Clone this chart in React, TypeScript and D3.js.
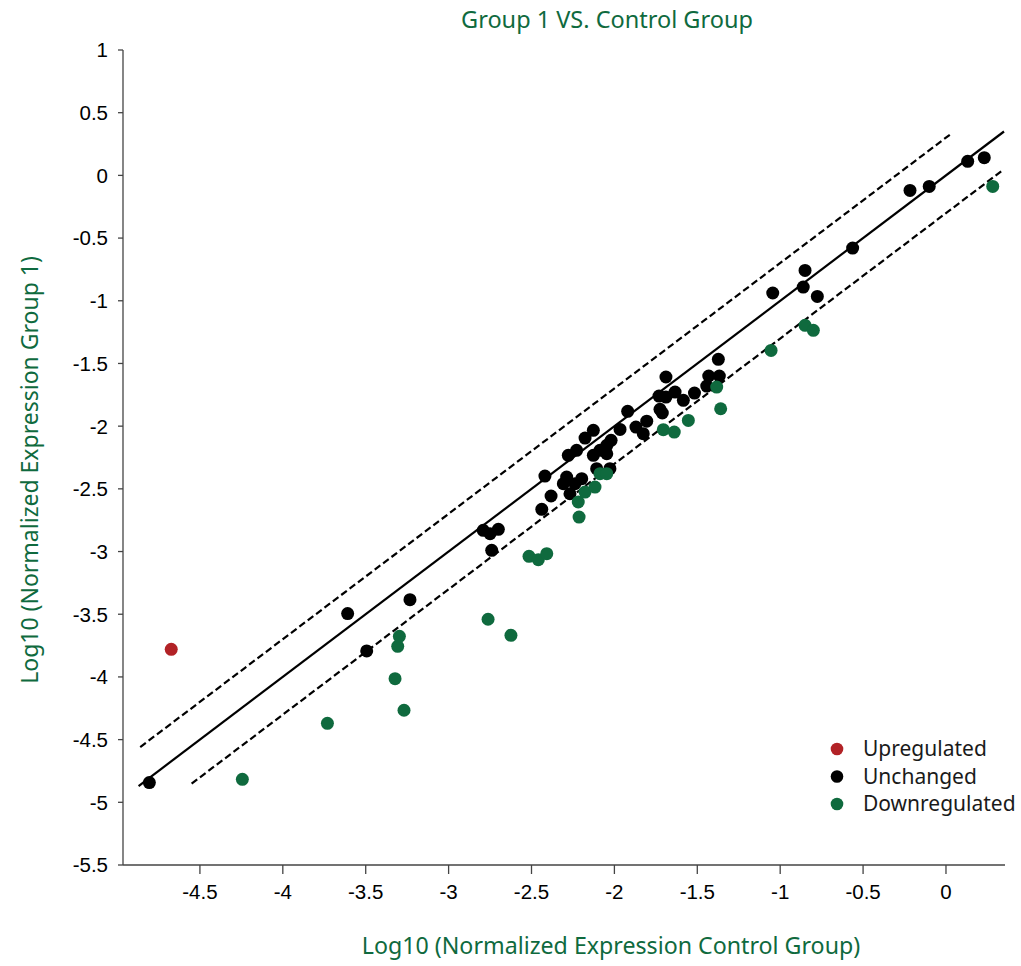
import React from "react";
import * as d3 from "d3";

// points as [log10 control, log10 group 1]
const upregulated: [number, number][] = [[-4.673, -3.78]];

const unchanged: [number, number][] = [
  [-4.805, -4.843], [-3.609, -3.495], [-3.233, -3.384], [-3.494, -3.793],
  [-2.791, -2.831], [-2.75, -2.858], [-2.7, -2.823], [-2.74, -2.99],
  [-2.438, -2.663], [-2.382, -2.557], [-2.268, -2.539], [-2.308, -2.459],
  [-2.238, -2.459], [-2.419, -2.398], [-2.288, -2.406], [-2.197, -2.419],
  [-2.107, -2.339], [-2.027, -2.339], [-2.278, -2.233], [-2.127, -2.233],
  [-2.046, -2.22], [-2.228, -2.193], [-2.087, -2.193], [-2.046, -2.153],
  [-2.02, -2.113], [-2.177, -2.095], [-2.127, -2.033], [-1.966, -2.026],
  [-1.826, -2.06], [-1.87, -2.007], [-1.805, -1.96], [-1.92, -1.882],
  [-1.711, -1.895], [-1.725, -1.866], [-1.584, -1.794], [-1.689, -1.768],
  [-1.731, -1.76], [-1.517, -1.736], [-1.634, -1.728], [-1.443, -1.68],
  [-1.431, -1.6], [-1.367, -1.6], [-1.689, -1.608], [-1.373, -1.467],
  [-1.045, -0.938], [-0.776, -0.965], [-0.861, -0.891], [-0.85, -0.758],
  [-0.563, -0.58], [-0.217, -0.12], [-0.101, -0.088], [0.131, 0.112],
  [0.231, 0.141],
];

const downregulated: [number, number][] = [
  [-4.244, -4.817], [-3.731, -4.37], [-3.323, -4.014], [-3.269, -4.266],
  [-3.307, -3.756], [-3.297, -3.676], [-2.762, -3.54], [-2.624, -3.668],
  [-2.515, -3.038], [-2.459, -3.065], [-2.408, -3.017], [-2.213, -2.725],
  [-2.218, -2.605], [-2.177, -2.526], [-2.117, -2.486], [-2.087, -2.379],
  [-2.046, -2.379], [-1.705, -2.028], [-1.639, -2.047], [-1.554, -1.954],
  [-1.383, -1.688], [-1.359, -1.861], [-1.055, -1.396], [-0.85, -1.196],
  [-0.8, -1.236], [0.282, -0.088],
];

const xTicks = [-4.5, -4, -3.5, -3, -2.5, -2, -1.5, -1, -0.5, 0];
const yTicks = [1, 0.5, 0, -0.5, -1, -1.5, -2, -2.5, -3, -3.5, -4, -4.5, -5, -5.5];

// reference lines: y = x + offset over an x range
const fold = Math.log10(2);
const refLines = [
  { offset: 0, from: -4.87, to: 0.35, dashed: false },
  { offset: fold, from: -4.86, to: 0.03, dashed: true },
  { offset: -fold, from: -4.55, to: 0.34, dashed: true },
];

const legendItems = [
  { label: "Upregulated", color: "#b22226" },
  { label: "Unchanged", color: "#000000" },
  { label: "Downregulated", color: "#0f6a3e" },
];

const GREEN = "#0f6a3e";
const tickFont = "'Liberation Sans', Arial, sans-serif";
const textFont = "'Noto Sans', 'Open Sans', sans-serif";

export default function App() {
  const width = 1021;
  const height = 966;
  const x = d3.scaleLinear().domain([-4.97, 0.356]).range([122, 1005]);
  const y = d3.scaleLinear().domain([-5.5, 1]).range([865, 50]);

  return (
    <svg
      width={width}
      height={height}
      style={{ position: "absolute", left: 0, top: 0, background: "#fff" }}
    >
      <text x={607} y={28} textAnchor="middle" fill={GREEN} fontFamily={textFont} fontSize={23.5}>
        Group 1 VS. Control Group
      </text>

      {/* y axis */}
      <line x1={123} x2={123} y1={y(1)} y2={y(-5.5)} stroke="#444" strokeWidth={1.3} />
      {yTicks.map((t) => (
        <g key={"y" + t}>
          <line x1={118} x2={123} y1={y(t)} y2={y(t)} stroke="#444" strokeWidth={1.3} />
          <text x={108} y={y(t)} dy="0.36em" textAnchor="end" fontFamily={tickFont} fontSize={20.5} fill="#000">
            {String(t)}
          </text>
        </g>
      ))}

      {/* x axis */}
      <line x1={123} x2={1005} y1={865} y2={865} stroke="#444" strokeWidth={1.3} />
      {xTicks.map((t) => (
        <g key={"x" + t}>
          <line x1={x(t)} x2={x(t)} y1={865} y2={874} stroke="#444" strokeWidth={1.3} />
          <text x={x(t)} y={899} textAnchor="middle" fontFamily={tickFont} fontSize={20.5} fill="#000">
            {String(t)}
          </text>
        </g>
      ))}

      <text x={611} y={954} textAnchor="middle" fill={GREEN} fontFamily={textFont} fontSize={23.2}>
        Log10 (Normalized Expression Control Group)
      </text>
      <text
        transform={`translate(38,470) rotate(-90)`}
        textAnchor="middle"
        fill={GREEN}
        fontFamily={textFont}
        fontSize={23}
      >
        Log10 (Normalized Expression Group 1)
      </text>

      {/* reference lines */}
      {refLines.map((r, i) => (
        <path
          key={"l" + i}
          d={
            d3
              .line<number>()
              .x((d) => x(d))
              .y((d) => y(d + r.offset))([r.from, r.to]) || ""
          }
          fill="none"
          stroke="#000"
          strokeWidth={2.2}
          strokeDasharray={r.dashed ? "7,3.5" : undefined}
        />
      ))}

      {unchanged.map((d, i) => (
        <circle key={"u" + i} cx={x(d[0])} cy={y(d[1])} r={6.5} fill="#000" />
      ))}
      {downregulated.map((d, i) => (
        <circle key={"d" + i} cx={x(d[0])} cy={y(d[1])} r={6.5} fill={GREEN} />
      ))}
      {upregulated.map((d, i) => (
        <circle key={"p" + i} cx={x(d[0])} cy={y(d[1])} r={6.5} fill="#b22226" />
      ))}

      {legendItems.map((it, i) => (
        <g key={it.label} transform={`translate(837,${749 + i * 27.5})`}>
          <circle r={6.3} fill={it.color} />
          <text x={26} dy="0.35em" fontFamily={textFont} fontSize={21} fill="#1a1a1a">
            {it.label}
          </text>
        </g>
      ))}
    </svg>
  );
}
